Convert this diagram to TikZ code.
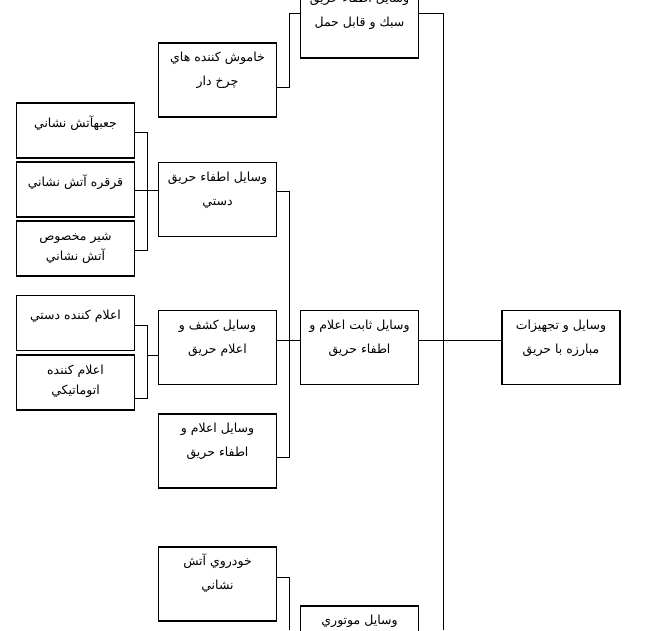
\documentclass[tikz,border=0pt]{standalone}
\usepackage{fontspec}
\newfontfamily\arabicfont[Script=Arabic]{DejaVu Sans}
\TeXXeTstate=1
\newcommand\boxbig[2]{\begin{minipage}[c][74pt][t]{116pt}\centering\arabicfont\fontsize{12.5}{24}\selectfont\vspace*{2pt}\strut#1\\\strut#2\end{minipage}}
\newcommand\boxsmallone[1]{\begin{minipage}[c][55pt][t]{116pt}\centering\arabicfont\fontsize{12.5}{20}\selectfont\vspace*{10pt}\strut#1\end{minipage}}
\newcommand\boxsmalltwo[2]{\begin{minipage}[c][55pt][t]{116pt}\centering\arabicfont\fontsize{12.5}{20}\selectfont\vspace*{5pt}\strut#1\\\strut#2\end{minipage}}
\tikzset{
  bigbox/.style={draw, line width=1.1pt, minimum width=118pt, minimum height=74pt, inner sep=0pt},
  smallbox/.style={draw, line width=1.1pt, minimum width=118pt, minimum height=55pt, inner sep=0pt},
  conn/.style={draw, line width=1pt}
}
\begin{document}
\begin{tikzpicture}[x=1pt, y=-1pt]
\useasboundingbox (0,0) rectangle (660,630);
\clip (0,0) rectangle (660,630);
% column 4
\node[bigbox] (main) at (561,347.5) {\boxbig{\beginR وسايل و تجهيزات\endR}{\beginR مبارزه با حريق\endR}};
% column 3
\node[bigbox] (top) at (359.5,21) {\boxbig{\beginR وسايل اطفاء حريق\endR}{\beginR سبك و قابل حمل\endR}};
\node[bigbox] (sabet) at (359.5,347.5) {\boxbig{\beginR وسايل ثابت اعلام و\endR}{\beginR اطفاء حريق\endR}};
\node[bigbox] (motori) at (359.5,643) {\boxbig{\beginR وسايل موتوري\endR}{}};
% column 2
\node[bigbox] (khamush) at (217.5,80) {\boxbig{\beginR خاموش كننده هاي\endR}{\beginR چرخ دار\endR}};
\node[bigbox] (etfa) at (217.5,199.5) {\boxbig{\beginR وسايل اطفاء حريق\endR}{\beginR دستي\endR}};
\node[bigbox] (kashf) at (217.5,347.5) {\boxbig{\beginR وسايل كشف و\endR}{\beginR اعلام حريق\endR}};
\node[bigbox] (elametfa) at (217.5,451) {\boxbig{\beginR وسايل  اعلام و\endR}{\beginR اطفاء حريق\endR}};
\node[bigbox] (khodro) at (217.5,584) {\boxbig{\beginR خودروي آتش\endR}{\beginR نشاني\endR}};
% column 1
\node[smallbox] (jabe) at (75.5,130.5) {\boxsmallone{\beginR جعبهآتش نشاني\endR}};
\node[smallbox] (ghor) at (75.5,189.5) {\boxsmallone{\beginR قرقره آتش نشاني\endR}};
\node[smallbox] (shir) at (75.5,248.5) {\boxsmalltwo{\beginR شير مخصوص\endR}{\beginR آتش نشاني\endR}};
\node[smallbox] (dasti) at (75.5,323) {\boxsmallone{\beginR اعلام كننده دستي\endR}};
\node[smallbox] (auto) at (75.5,382.5) {\boxsmalltwo{\beginR اعلام كننده\endR}{\beginR اتوماتيكي\endR}};
% bus coordinates
\coordinate (bA) at (289,0);
\coordinate (bB) at (443,0);
\coordinate (bL) at (147,0);
\coordinate (bAend) at (289,630);
\coordinate (bBend) at (443,630);
% connector end points
\coordinate (topW) at ([yshift=8pt]top.west);
\coordinate (topE) at ([yshift=8pt]top.east);
\coordinate (khE) at ([yshift=-7pt]khamush.east);
\coordinate (edE) at ([yshift=8.5pt]etfa.east);
\coordinate (edW) at ([yshift=9.5pt]etfa.west);
\coordinate (eeE) at ([yshift=-6pt]elametfa.east);
\coordinate (kaE) at ([yshift=7.5pt]kashf.east);
\coordinate (kaW) at ([yshift=-7.5pt]kashf.west);
\coordinate (saW) at ([yshift=7.5pt]sabet.west);
\coordinate (saE) at ([yshift=7.5pt]sabet.east);
\coordinate (maW) at ([yshift=7.5pt]main.west);
\coordinate (khoE) at ([yshift=7pt]khodro.east);
\coordinate (jaE) at ([yshift=-1.5pt]jabe.east);
\coordinate (ghE) at ([yshift=-0.5pt]ghor.east);
\coordinate (shE) at ([yshift=-1.5pt]shir.east);
\coordinate (daE) at ([yshift=-2pt]dasti.east);
\coordinate (auE) at ([yshift=-15.5pt]auto.east);
% connectors
\draw[conn] (topW) -| (khE -| bA) -- (khE);
\draw[conn] (topE) -| (bBend);
\draw[conn] (saE) -- (maW);
\draw[conn] (edE) -| (eeE -| bA) -- (eeE);
\draw[conn] (kaE) -- (saW);
\draw[conn] (khoE) -| (bAend);
\draw[conn] (jaE) -| (shE -| bL) -- (shE);
\draw[conn] (ghE) -- (edW);
\draw[conn] (daE) -| (auE -| bL) -- (auE);
\draw[conn] (kaW -| bL) -- (kaW);
\end{tikzpicture}
\end{document}
